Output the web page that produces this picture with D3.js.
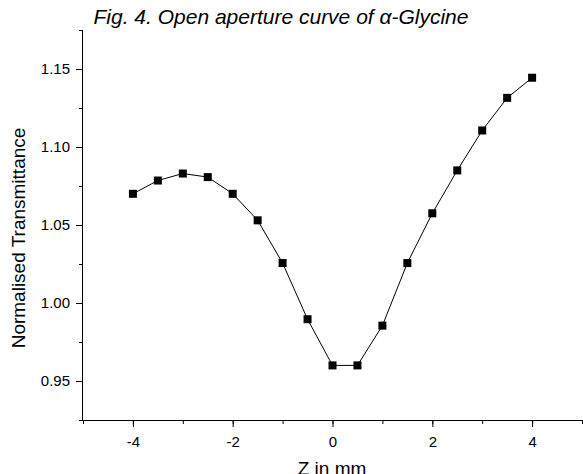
<!DOCTYPE html>
<html>
<head>
<meta charset="utf-8">
<script src="https://cdn.jsdelivr.net/npm/d3@7"></script>
<style>
  body { margin: 0; background: #fff; }
  text { font-family: "Liberation Sans", Arial, sans-serif; }
</style>
</head>
<body>
<div id="chart"></div>
<script>
// data
var zValues = [-4, -3.5, -3, -2.5, -2, -1.5, -1, -0.5, 0, 0.5, 1, 1.5, 2, 2.5, 3, 3.5, 4];
var transmittance = [1.070, 1.0785, 1.083, 1.0807, 1.070, 1.053, 1.0256, 0.9896, 0.960, 0.960,
                     0.9855, 1.0256, 1.0575, 1.085, 1.1106, 1.1315, 1.1444];
var xTicks = [-4, -2, 0, 2, 4];
var yTicks = [0.95, 1.00, 1.05, 1.10, 1.15];

var W = 583, H = 474;
var plotLeft = 83, plotRight = 582, plotTop = 30, plotBottom = 420;

var svg = d3.select("#chart").append("svg")
    .attr("width", W)
    .attr("height", H);

var x = d3.scaleLinear().domain([-5, 5]).range([plotLeft, plotRight]);
var y = d3.scaleLinear().domain([0.925, 1.175]).range([plotBottom, plotTop]);

// x axis - minor ticks then major ticks with labels
var xMinor = d3.range(-5, 5.01, 1);
svg.append("g")
    .attr("transform", "translate(0," + plotBottom + ")")
    .call(d3.axisBottom(x).tickValues(xMinor).tickSize(4).tickFormat(""))
    .call(function(g) { g.select(".domain").remove(); });

svg.append("g")
    .attr("transform", "translate(0," + plotBottom + ")")
    .call(d3.axisBottom(x).tickValues(xTicks).tickSize(7).tickSizeOuter(0)
        .tickFormat(function(d) { return d; }))
    .call(function(g) {
        g.select(".domain").attr("d", "M" + plotLeft + ",0.5H" + plotRight);
        g.selectAll("text").attr("font-size", 15).attr("y", 16).attr("dy", "0.71em")
            .attr("font-family", "Liberation Sans, Arial, sans-serif");
    });

// y axis
var yMinor = d3.range(0, 6).map(function(i) { return 0.925 + i * 0.05; });
svg.append("g")
    .attr("transform", "translate(" + plotLeft + ",0)")
    .call(d3.axisLeft(y).tickValues(yMinor).tickSize(4).tickFormat(""))
    .call(function(g) { g.select(".domain").remove(); });

svg.append("g")
    .attr("transform", "translate(" + plotLeft + ",0)")
    .call(d3.axisLeft(y).tickValues(yTicks).tickSize(7).tickSizeOuter(0)
        .tickFormat(d3.format(".2f")))
    .call(function(g) {
        g.select(".domain").attr("d", "M-0.5," + plotTop + "V" + plotBottom);
        g.selectAll("text").attr("font-size", 15).attr("x", -13)
            .attr("font-family", "Liberation Sans, Arial, sans-serif");
    });

// line + square markers
var pts = zValues.map(function(z, i) { return [z, transmittance[i]]; });

svg.append("path")
    .datum(pts)
    .attr("fill", "none")
    .attr("stroke", "#000")
    .attr("stroke-width", 1)
    .attr("d", d3.line()
        .x(function(d) { return x(d[0]); })
        .y(function(d) { return y(d[1]); }));

svg.selectAll("rect.pt")
    .data(pts)
    .enter()
    .append("rect")
    .attr("class", "pt")
    .attr("x", function(d) { return x(d[0]) - 4; })
    .attr("y", function(d) { return y(d[1]) - 4; })
    .attr("width", 8)
    .attr("height", 8)
    .attr("fill", "#000");

// titles
svg.append("text")
    .attr("x", 281)
    .attr("y", 24)
    .attr("text-anchor", "middle")
    .attr("font-size", 21)
    .attr("font-style", "italic")
    .text("Fig. 4. Open aperture curve of α-Glycine");

svg.append("text")
    .attr("x", 332)
    .attr("y", 475)
    .attr("text-anchor", "middle")
    .attr("font-size", 19)
    .text("Z in mm");

svg.append("text")
    .attr("transform", "translate(25,238) rotate(-90)")
    .attr("text-anchor", "middle")
    .attr("font-size", 19)
    .text("Normalised Transmittance");
</script>
</body>
</html>
